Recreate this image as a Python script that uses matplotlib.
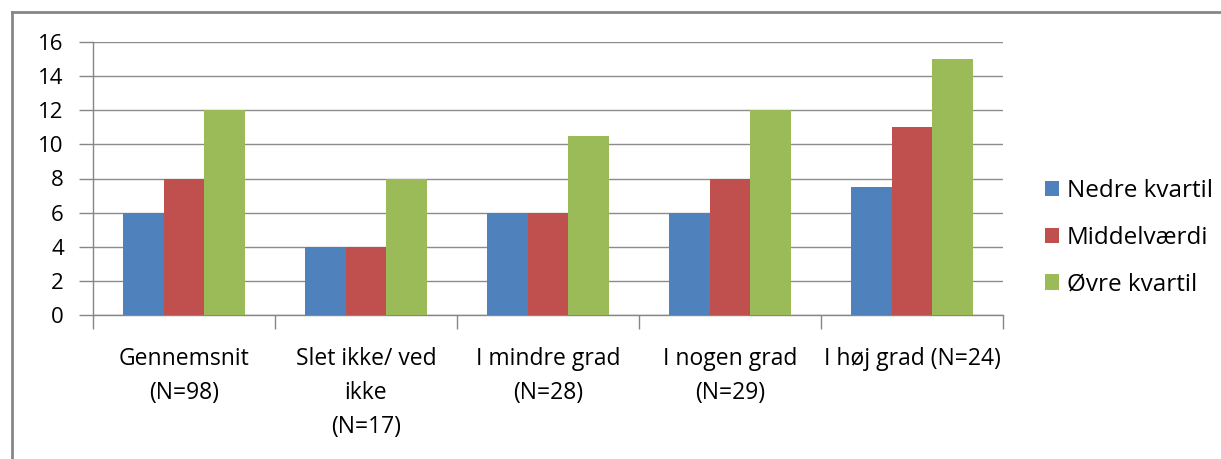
import matplotlib
matplotlib.use("Agg")
import matplotlib.pyplot as plt
import numpy as np
from matplotlib.lines import Line2D

plt.rcParams['font.family'] = ['Open Sans', 'DejaVu Sans']

kategorier = ['Gennemsnit\n(N=98)', 'Slet ikke/ ved\nikke\n(N=17)', 'I mindre grad\n(N=28)',
              'I nogen grad\n(N=29)', 'I høj grad (N=24)']
nedre = [6, 4, 6, 6, 7.5]
middel = [8, 4, 6, 8, 11]
oevre = [12, 8, 10.5, 12, 15]
serier = ['Nedre kvartil', 'Middelværdi', 'Øvre kvartil']
farver = ['#4F81BD', '#C0504D', '#9BBB59']
yticks = [0, 2, 4, 6, 8, 10, 12, 14, 16]

W, H = 1221, 459
fig = plt.figure(figsize=(W / 100, H / 100), dpi=100)
ax = fig.add_axes([93 / W, 1 - 315 / H, 910 / W, 273 / H])

x = np.arange(len(kategorier))
bw = 1 / 4.5
for i, (vals, navn, c) in enumerate(zip([nedre, middel, oevre], serier, farver)):
    ax.bar(x + (i - 1) * bw, vals, width=bw, color=c, label=navn, zorder=3)

ax.set_xlim(-0.5, len(kategorier) - 0.5)
ax.set_ylim(0, 16)
ax.set_yticks(yticks)
ax.tick_params(axis='y', labelsize=16, length=10, color='#868686', width=1, pad=11)
ax.set_xticks(x)
ax.set_xticklabels(kategorier, fontsize=16.5, linespacing=1.55)
ax.tick_params(axis='x', length=0, pad=23)
ax.set_xticks(np.arange(-0.5, len(kategorier)), minor=True)
ax.tick_params(axis='x', which='minor', length=10, color='#868686', width=1)
ax.grid(axis='y', color='#8c8c8c', linewidth=1, zorder=0)
for s in ['top', 'right']:
    ax.spines[s].set_visible(False)
for s in ['left', 'bottom']:
    ax.spines[s].set_color('#868686')
    ax.spines[s].set_linewidth(1)

ax.legend(loc='center left', bbox_to_anchor=(1045 / W, 1 - 238 / H),
          bbox_transform=fig.transFigure, borderpad=0, borderaxespad=0,
          frameon=False, fontsize=17.5,
          handlelength=0.58, handleheight=0.58, handletextpad=0.33, labelspacing=0.93)

# ydre ramme
fig.add_artist(Line2D([12 / W, 12 / W], [0, 1 - 12 / H], color='#868686', linewidth=2))
fig.add_artist(Line2D([12 / W, 1], [1 - 12 / H, 1 - 12 / H], color='#868686', linewidth=2))

fig.savefig('out.png', dpi=100)
